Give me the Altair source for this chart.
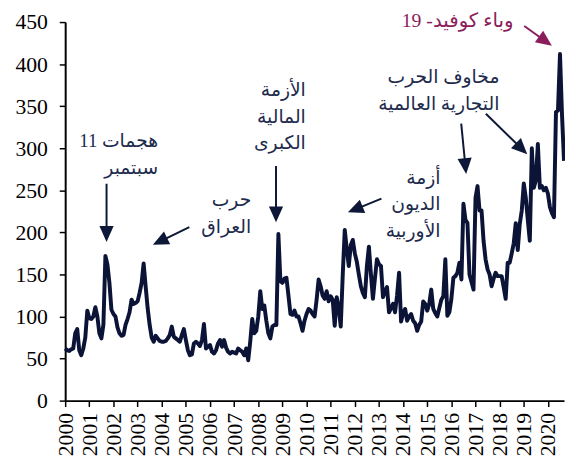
import math
import altair as alt
import pandas as pd

# ---- data (monthly index) ----
y2000 = [62, 60, 59, 61, 62, 80, 85, 60, 54, 62, 75, 107]
y2001 = [98, 97, 100, 111, 100, 80, 74, 90, 172, 162, 140, 108]
y2002 = [103, 100, 87, 80, 77, 78, 90, 97, 105, 120, 115, 116]
y2003 = [118, 128, 140, 163, 136, 110, 90, 75, 70, 77, 74, 71]
y2004 = [70, 70, 71, 74, 78, 88, 76, 74, 72, 70, 78, 85]
y2005 = [72, 60, 54, 55, 68, 70, 68, 65, 72, 91, 62, 64]
y2006 = [66, 58, 56, 60, 68, 72, 64, 72, 63, 58, 56, 58]
y2007 = [57, 56, 62, 60, 58, 54, 62, 48, 70, 97, 80, 83]
y2008 = [100, 130, 109, 113, 95, 80, 74, 88, 90, 90, 198, 142]
y2009 = [140, 145, 146, 125, 103, 102, 107, 100, 100, 92, 83, 95]
y2010 = [103, 109, 107, 103, 100, 120, 144, 136, 125, 121, 130, 118]
y2011 = [124, 120, 89, 123, 110, 88, 150, 203, 180, 160, 185, 191]
y2012 = [175, 165, 150, 136, 128, 123, 160, 183, 150, 121, 145, 168]
y2013 = [162, 160, 123, 130, 135, 105, 110, 115, 105, 125, 152, 94]
y2014 = [104, 109, 95, 100, 103, 95, 92, 83, 90, 94, 118, 115]
y2015 = [107, 115, 132, 109, 104, 100, 110, 120, 124, 168, 101, 105]
y2016 = [121, 146, 148, 152, 164, 144, 234, 215, 211, 150, 141, 132]
y2017 = [241, 255, 226, 226, 190, 168, 156, 150, 136, 145, 152, 148]
y2018 = [148, 148, 135, 121, 164, 164, 175, 187, 211, 179, 210, 226]
y2019 = [258, 241, 215, 190, 300, 253, 262, 305, 253, 255, 250, 253]
y2020 = [246, 230, 223, 218, 343, 345, 412, 340, 285]

year_ticks = list(range(2000, 2021))
y_ticks = list(range(0, 451, 50))

ann_text = [
    "11 هجمات\nسبتمبر",
    "حرب\nالعراق",
    "الأزمة\nالمالية\nالكبرى",
    "أزمة\nالديون\nالأوربية",
    "مخاوف الحرب\nالتجارية العالمية",
    "19 -وباء كوفيد",
]
ann_x = [2003.85, 2007.71, 2009.97, 2015.55, 2017.99, 2018.57]
ann_y = [308.2, 237.9, 369.1, 264.8, 384.4, 451.0]
ann_size = [19, 19, 19, 19, 19, 20]
ann_color = ["#1e2b4d"] * 5 + ["#8c1d5b"]

arrow_x0 = [2001.714, 2005.143, 2008.735, 2013.102, 2016.408, 2017.429, 2019.020]
arrow_y0 = [257.8, 206.3, 278.9, 240.2, 329.3, 341.0, 445.3]
arrow_x1 = [2001.714, 2003.633, 2008.735, 2011.714, 2016.612, 2019.143, 2020.163]
arrow_y1 = [188.7, 185.2, 212.1, 223.8, 269.5, 293.0, 421.9]
arrow_color = ["#0d1838"] * 6 + ["#8c1d5b"]

# ---- build tables ----
epu = (y2000 + y2001 + y2002 + y2003 + y2004 + y2005 + y2006 + y2007 + y2008 + y2009
       + y2010 + y2011 + y2012 + y2013 + y2014 + y2015 + y2016 + y2017 + y2018 + y2019 + y2020)
t = [2000 + i / 12 for i in range(len(epu))]
line_df = pd.DataFrame({"t": t, "v": epu})

W, H = 506, 384
XD = [2000, 2000 + (len(epu) - 1) / 12]
YD = [0, 450]


def to_px(x, y):
    return ((x - XD[0]) / (XD[1] - XD[0]) * W, H - (y - YD[0]) / (YD[1] - YD[0]) * H)


def to_data(px, py):
    return (XD[0] + px / W * (XD[1] - XD[0]), YD[0] + (H - py) / H * (YD[1] - YD[0]))


HEAD = 16
rows = []
for x0, y0, x1, y1, c in zip(arrow_x0, arrow_y0, arrow_x1, arrow_y1, arrow_color):
    p0 = to_px(x0, y0)
    p1 = to_px(x1, y1)
    dx, dy = p1[0] - p0[0], p1[1] - p0[1]
    n = math.hypot(dx, dy)
    ux, uy = dx / n, dy / n
    base = to_data(p1[0] - (HEAD - 2) * ux, p1[1] - (HEAD - 2) * uy)
    mid = to_data(p1[0] - HEAD / 2 * ux, p1[1] - HEAD / 2 * uy)
    ang = math.degrees(math.atan2(ux, -uy)) % 360
    rows.append({"x0": x0, "y0": y0, "bx": base[0], "by": base[1],
                 "hx": mid[0], "hy": mid[1], "ang": ang, "c": c})
arrow_df = pd.DataFrame(rows)

ann_df = pd.DataFrame({"x": ann_x, "y": ann_y, "c": ann_color, "txt": ann_text, "s": ann_size})

SERIF = "Liberation Serif, Times New Roman, serif"
xs = alt.Scale(domain=XD, nice=False, zero=False)
ys = alt.Scale(domain=YD, nice=False)
x_axis = alt.Axis(
    values=year_ticks, format="d", labelAngle=270, title=None, grid=False,
    labelFont=SERIF, labelFontSize=22, labelColor="#000000",
    labelPadding=6, tickSize=6, tickWidth=1.5, tickColor="#000000",
    domainColor="#000000", domainWidth=2, labelOverlap=False, labelFlush=False,
    labelBound=False, labelSeparation=0)
y_axis = alt.Axis(
    values=y_ticks, title=None, grid=False,
    labelFont=SERIF, labelFontSize=22, labelColor="#000000",
    labelPadding=12, tickSize=6, tickWidth=1.5, tickColor="#000000",
    domainColor="#000000", domainWidth=2, labelOverlap=False)

line = alt.Chart(line_df).mark_line(color="#0b1436", strokeWidth=4, strokeJoin="round").encode(
    x=alt.X("t:Q", scale=xs, axis=x_axis),
    y=alt.Y("v:Q", scale=ys, axis=y_axis),
)

shafts = alt.Chart(arrow_df).mark_rule(strokeWidth=2).encode(
    x=alt.X("x0:Q", scale=xs, axis=x_axis), y=alt.Y("y0:Q", scale=ys, axis=y_axis),
    x2="bx:Q", y2="by:Q", color=alt.Color("c:N", scale=None),
)

heads = alt.Chart(arrow_df).mark_point(
    shape="M0,-1L0.9,1L-0.9,1Z", filled=True, opacity=1, size=256, strokeWidth=0
).encode(
    x=alt.X("hx:Q", scale=xs, axis=x_axis), y=alt.Y("hy:Q", scale=ys, axis=y_axis),
    angle=alt.Angle("ang:Q", scale=None), color=alt.Color("c:N", scale=None),
)

labels = alt.Chart(ann_df).mark_text(
    align="right", baseline="middle", lineBreak="\n", lineHeight=27,
    font="Liberation Serif, DejaVu Sans",
).encode(
    x=alt.X("x:Q", scale=xs, axis=x_axis), y=alt.Y("y:Q", scale=ys, axis=y_axis),
    text="txt:N", color=alt.Color("c:N", scale=None), size=alt.Size("s:Q", scale=None),
)

chart = alt.layer(line, shafts, heads, labels).properties(
    width=W, height=H, background="#ffffff",
    autosize=alt.AutoSizeParams(type="none"),
    padding={"left": 58, "top": 11, "right": 1, "bottom": 60},
).configure(font=SERIF).configure_view(stroke=None).configure_axis(
    labelOverlap=False, labelFont=SERIF)

chart.save("out.html", embed_options={"renderer": "svg", "actions": False})
